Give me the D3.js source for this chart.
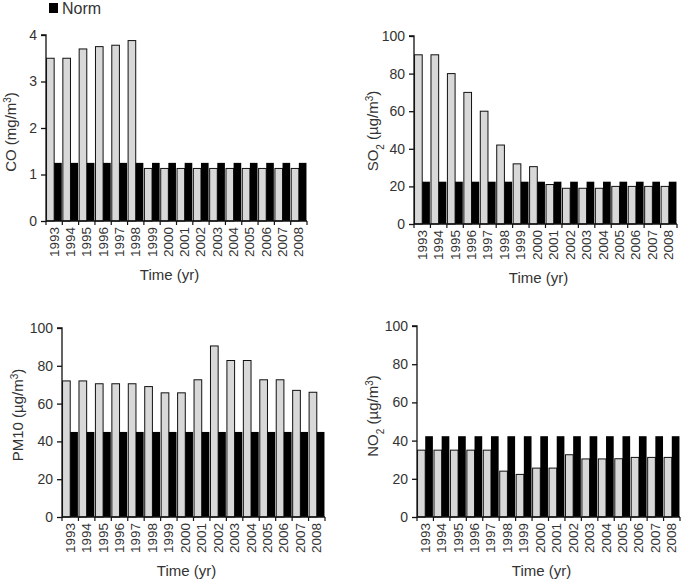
<!DOCTYPE html>
<html>
<head>
<meta charset="utf-8">
<script src="https://cdn.jsdelivr.net/npm/d3@7"></script>
<style>
  body { margin: 0; background: #fff; }
  text { font-family: "Liberation Sans", Arial, sans-serif; fill: #333; }
</style>
</head>
<body>
<script>
const years = ["1993","1994","1995","1996","1997","1998","1999","2000","2001","2002","2003","2004","2005","2006","2007","2008"]

// measured values (gray bars) and the norm (black bars)
const coValues   = [3.5, 3.5, 3.7, 3.75, 3.78, 3.88, 1.13, 1.13, 1.13, 1.13, 1.13, 1.13, 1.13, 1.13, 1.13, 1.13]
const coNorm     = [1.25, 1.25, 1.25, 1.25, 1.25, 1.25, 1.25, 1.25, 1.25, 1.25, 1.25, 1.25, 1.25, 1.25, 1.25, 1.25]
const so2Values  = [90, 90, 80, 70, 60, 42, 32, 30.5, 21, 19, 19, 19, 20, 20, 20, 20]
const so2Norm    = [22.5, 22.5, 22.5, 22.5, 22.5, 22.5, 22.5, 22.5, 22.5, 22.5, 22.5, 22.5, 22.5, 22.5, 22.5, 22.5]
const pm10Values = [72, 72, 70.5, 70.5, 70.5, 69, 65.7, 65.7, 72.6, 90.5, 82.8, 82.8, 72.6, 72.6, 67, 66]
const pm10Norm   = [45, 45, 45, 45, 45, 45, 45, 45, 45, 45, 45, 45, 45, 45, 45, 45]
const no2Values  = [35, 35, 35, 35, 35, 24, 22.3, 25.6, 25.6, 32.6, 30.4, 30.4, 30.5, 31.2, 31.2, 31.2]
const no2Norm    = [42.3, 42.3, 42.3, 42.3, 42.3, 42.3, 42.3, 42.3, 42.3, 42.3, 42.3, 42.3, 42.3, 42.3, 42.3, 42.3]

const coTicks = [0, 1, 2, 3, 4]
const ugTicks = [0, 20, 40, 60, 80, 100]

const svg = d3.select("body")
    .append("svg")
    .attr("width", 685)
    .attr("height", 581)

// legend
svg.append("rect")
    .attr("x", 49).attr("y", 3)
    .attr("width", 9).attr("height", 10)
    .attr("fill", "#000")
svg.append("text")
    .attr("x", 62).attr("y", 14)
    .attr("font-size", "16px")
    .text("Norm")

function panel(opt) {
    const g = svg.append("g")

    const x = d3.scaleBand()
        .domain(years)
        .range([opt.left, opt.right])
    const y = d3.scaleLinear()
        .domain([0, opt.max])
        .range([opt.bottom, opt.top])

    const sub = d3.scaleBand()
        .domain(["val", "norm"])
        .range([0, x.bandwidth()])
        .paddingOuter(0.07)

    const rows = years.map(function(yr, i) {
        return {year: yr, val: opt.values[i], norm: opt.norm[i]}
    })

    // gray measured bars
    g.selectAll("rect.val")
        .data(rows).enter()
        .append("rect")
        .attr("class", "val")
        .attr("x", function(d) { return x(d.year) + sub("val") })
        .attr("y", function(d) { return y(d.val) })
        .attr("width", sub.bandwidth())
        .attr("height", function(d) { return y(0) - y(d.val) })
        .attr("fill", "#d8d8d8")
        .attr("stroke", "#111")
        .attr("stroke-width", 1)

    // black norm bars
    g.selectAll("rect.norm")
        .data(rows).enter()
        .append("rect")
        .attr("class", "norm")
        .attr("x", function(d) { return x(d.year) + sub("norm") })
        .attr("y", function(d) { return y(d.norm) })
        .attr("width", sub.bandwidth())
        .attr("height", function(d) { return y(0) - y(d.norm) })
        .attr("fill", "#000")

    // y axis
    const yAxis = d3.axisLeft(y)
        .tickValues(opt.ticks)
        .tickFormat(d3.format("d"))
        .tickSize(5)
        .tickPadding(4)
    const ya = g.append("g")
        .attr("transform", "translate(" + opt.left + ",0)")
        .call(yAxis)
    ya.select(".domain").attr("stroke", "#111").attr("stroke-width", 1.3)
        .attr("d", "M-5," + y(opt.max) + "H0V" + y(0))
    ya.selectAll(".tick line").attr("stroke", "#111").attr("stroke-width", 1.3)
    ya.selectAll(".tick text")
        .attr("font-size", "14px")
        .attr("font-family", "Liberation Sans, Arial, sans-serif")
        .attr("fill", "#333")

    // x axis: ticks between categories
    const xa = g.append("g")
    xa.append("line")
        .attr("x1", opt.left).attr("x2", opt.right)
        .attr("y1", y(0)).attr("y2", y(0))
        .attr("stroke", "#111").attr("stroke-width", 1.3)
    const bounds = years.map(function(yr) { return x(yr) }).concat([opt.right])
    xa.selectAll("line.tk")
        .data(bounds).enter()
        .append("line")
        .attr("class", "tk")
        .attr("x1", function(d) { return d }).attr("x2", function(d) { return d })
        .attr("y1", y(0)).attr("y2", y(0) + 4)
        .attr("stroke", "#111").attr("stroke-width", 1.2)
    xa.selectAll("text")
        .data(years).enter()
        .append("text")
        .attr("transform", function(d) {
            return "translate(" + (x(d) + x.bandwidth() / 2 + 4.5) + "," + (y(0) + 6) + ") rotate(-90)"
        })
        .attr("text-anchor", "end")
        .attr("font-size", "13.5px")
        .text(function(d) { return d })

    // axis titles
    g.append("text")
        .attr("x", (opt.left + opt.right) / 2 - 7)
        .attr("y", opt.bottom + 59)
        .attr("text-anchor", "middle")
        .attr("font-size", "15px")
        .text("Time (yr)")

    const yt = g.append("text")
        .attr("transform", "translate(" + opt.titleX + "," + opt.titleY + ") rotate(-90)")
        .attr("text-anchor", "middle")
        .attr("font-size", "15px")
    opt.title.forEach(function(part) {
        const t = yt.append("tspan").text(part.t)
        if (part.sup) t.attr("baseline-shift", "super").attr("font-size", "10px")
        if (part.sub) t.attr("baseline-shift", "sub").attr("font-size", "10px")
    })
}

panel({left: 46, right: 307, top: 35, bottom: 221, max: 4, ticks: coTicks,
    values: coValues, norm: coNorm, titleX: 16, titleY: 132,
    title: [{t: "CO (mg/m"}, {t: "3", sup: true}, {t: ")"}]})

panel({left: 414, right: 677, top: 36, bottom: 224, max: 100, ticks: ugTicks,
    values: so2Values, norm: so2Norm, titleX: 378, titleY: 131,
    title: [{t: "SO"}, {t: "2", sub: true}, {t: " (µg/m"}, {t: "3", sup: true}, {t: ")"}]})

panel({left: 62, right: 325, top: 328, bottom: 517, max: 100, ticks: ugTicks,
    values: pm10Values, norm: pm10Norm, titleX: 23, titleY: 415,
    title: [{t: "PM10 (µg/m"}, {t: "3", sup: true}, {t: ")"}]})

panel({left: 417, right: 680, top: 326, bottom: 517, max: 100, ticks: ugTicks,
    values: no2Values, norm: no2Norm, titleX: 378, titleY: 416,
    title: [{t: "NO"}, {t: "2", sub: true}, {t: " (µg/m"}, {t: "3", sup: true}, {t: ")"}]})
</script>
</body>
</html>
